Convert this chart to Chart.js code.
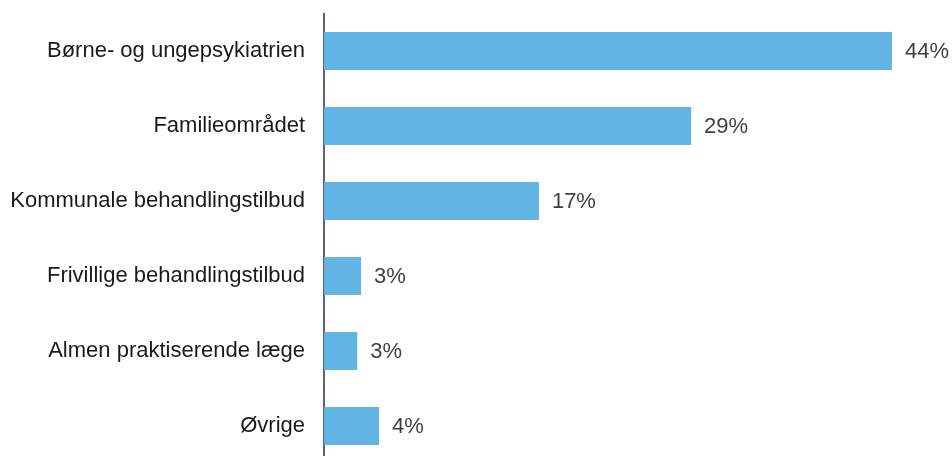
<!DOCTYPE html>
<html>
<head>
<meta charset="utf-8">
<script src="https://cdn.jsdelivr.net/npm/chart.js@4.4.0/dist/chart.umd.min.js"></script>
<style>
html,body{margin:0;padding:0;background:#fff;overflow:hidden;}
#wrap{width:952px;height:456px;overflow:hidden;position:relative;}
canvas{display:block;}
</style>
</head>
<body>
<div id="wrap"><canvas id="c" width="952" height="464"></canvas></div>
<script>
const categories = [
  "Børne- og ungepsykiatrien",
  "Familieområdet",
  "Kommunale behandlingstilbud",
  "Frivillige behandlingstilbud",
  "Almen praktiserende læge",
  "Øvrige"
];
const shares = [44.4, 28.7, 16.8, 2.9, 2.6, 4.3];
const xMin = 0;
const xMax = 48;

const FONT = "'Liberation Sans', Arial, sans-serif";

const valueLabels = {
  id: 'valueLabels',
  afterDatasetsDraw(chart) {
    const ctx = chart.ctx;
    const meta = chart.getDatasetMeta(0);
    ctx.save();
    ctx.font = "22px " + FONT;
    ctx.fillStyle = "#404040";
    ctx.textAlign = "left";
    ctx.textBaseline = "middle";
    meta.data.forEach((bar, i) => {
      const v = chart.data.datasets[0].data[i];
      ctx.fillText(Math.round(v) + "%", bar.x + 13, bar.y + 1);
    });
    ctx.restore();
  }
};

new Chart(document.getElementById('c'), {
  type: 'bar',
  data: {
    labels: categories,
    datasets: [{
      data: shares,
      backgroundColor: '#62b4e4',
      borderWidth: 0,
      categoryPercentage: 1,
      barPercentage: 0.507
    }]
  },
  options: {
    indexAxis: 'y',
    responsive: false,
    animation: false,
    devicePixelRatio: 1,
    layout: { padding: { left: 0, right: 14, top: 13.5, bottom: 0.5 } },
    plugins: { legend: { display: false }, tooltip: { enabled: false } },
    scales: {
      x: { display: false, min: xMin, max: xMax },
      y: {
        afterFit(s) { s.width = 324; s.paddingTop = 0; s.paddingBottom = 0; },
        grid: { display: false, drawTicks: false },
        border: { display: true, color: '#5a6379', width: 2 },
        ticks: {
          padding: 19,
          color: '#1a1a1a',
          font: { family: FONT, size: 22 }
        }
      }
    }
  },
  plugins: [valueLabels]
});
</script>
</body>
</html>
